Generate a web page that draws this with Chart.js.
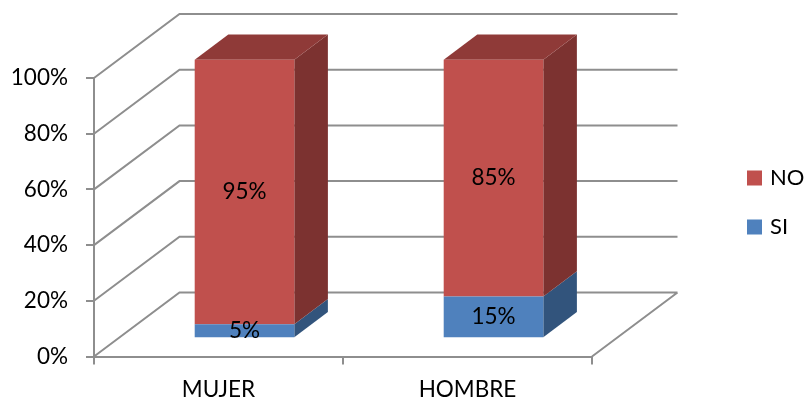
<!DOCTYPE html>
<html>
<head>
<meta charset="utf-8">
<style>
  html, body { margin: 0; padding: 0; background: #fff; }
  #wrap { width: 804px; height: 400px; }
</style>
<script src="https://cdn.jsdelivr.net/npm/chart.js@4/dist/chart.umd.min.js"></script>
</head>
<body>
<div id="wrap"><canvas id="chart" width="804" height="400"></canvas></div>
<script>
const categories = ["MUJER", "HOMBRE"];
const siValues = [5, 15];
const noValues = [95, 85];
const yTicks = [0, 20, 40, 60, 80, 100];

const FONT = { family: "Lato, Carlito, sans-serif", size: 22.5 };
const LEGEND_FONT = { family: "Lato, Carlito, sans-serif", size: 22 };
const TEXT = "#000000";
const AXIS = "#8e8e8e";
const LINE = 2;

// 3D look: how far the back wall and the bars sit from the front plane
const wall = { dx: 85.5, dy: 64 };
const barShift = { dx: 26, dy: 18.3 };
const barDepth = { dx: 33.6, dy: 25.2 };

const faces = [
  { side: "#32547c", top: "#3a6190" },
  { side: "#7c3230", top: "#8f3a38" },
];

function polygon(ctx, pts, color) {
  ctx.fillStyle = color;
  ctx.beginPath();
  pts.forEach((p, i) => (i ? ctx.lineTo(p[0], p[1]) : ctx.moveTo(p[0], p[1])));
  ctx.closePath();
  ctx.fill();
}

const box3d = {
  id: "box3d",
  afterLayout(chart) {
    // legend sits far right of the plot, out of the layout flow
    const lg = chart.legend;
    const w = lg.width, h = lg.height;
    lg.left = 723;
    lg.top = 140;
    lg.right = lg.left + w;
    lg.bottom = lg.top + h;
  },
  beforeDatasetsDraw(chart) {
    const { ctx, chartArea: a, scales: { y } } = chart;
    ctx.save();
    ctx.strokeStyle = AXIS;
    ctx.lineWidth = LINE;
    ctx.beginPath();
    y.ticks.forEach((t) => {
      const py = y.getPixelForValue(t.value);
      ctx.moveTo(a.left, py);
      ctx.lineTo(a.left + wall.dx, py - wall.dy);
      ctx.lineTo(a.right + wall.dx, py - wall.dy);
    });
    ctx.moveTo(a.right, a.bottom);
    ctx.lineTo(a.right + wall.dx, a.bottom - wall.dy);
    ctx.stroke();
    ctx.restore();

    // everything of the bars is drawn shifted back onto the floor
    ctx.save();
    ctx.translate(barShift.dx, -barShift.dy);
    chart.data.datasets.forEach((ds, i) => {
      chart.getDatasetMeta(i).data.forEach((bar) => {
        const r = bar.x + bar.width / 2;
        const l = bar.x - bar.width / 2;
        polygon(ctx, [
          [r, bar.y],
          [r + barDepth.dx, bar.y - barDepth.dy],
          [r + barDepth.dx, bar.base - barDepth.dy],
          [r, bar.base],
        ], faces[i].side);
        if (i === chart.data.datasets.length - 1) {
          polygon(ctx, [
            [l, bar.y],
            [l + barDepth.dx, bar.y - barDepth.dy],
            [r + barDepth.dx, bar.y - barDepth.dy],
            [r, bar.y],
          ], faces[i].top);
        }
      });
    });
  },
  afterDatasetsDraw(chart) {
    const { ctx } = chart;
    ctx.fillStyle = TEXT;
    ctx.font = `${FONT.size}px ${FONT.family}`;
    ctx.textAlign = "center";
    ctx.textBaseline = "middle";
    chart.data.datasets.forEach((ds, i) => {
      chart.getDatasetMeta(i).data.forEach((bar, j) => {
        ctx.fillText(ds.data[j] + "%", bar.x, (bar.y + bar.base) / 2);
      });
    });
    ctx.restore();
  },
};

new Chart(document.getElementById("chart"), {
  type: "bar",
  data: {
    labels: categories,
    datasets: [
      { label: "SI", data: siValues, backgroundColor: "#4f81bd", clip: false },
      { label: "NO", data: noValues, backgroundColor: "#c0504d", clip: false },
    ],
  },
  options: {
    responsive: false,
    animation: false,
    events: [],
    categoryPercentage: 1,
    barPercentage: 0.4,
    layout: { padding: { left: 0, top: 78, right: 212, bottom: 0 } },
    font: FONT,
    scales: {
      x: {
        stacked: true,
        afterFit: (s) => { s.height = 43.5; },
        border: { color: AXIS, width: LINE },
        grid: { drawOnChartArea: false, color: AXIS, lineWidth: LINE, tickLength: 8 },
        ticks: { color: TEXT, font: FONT, padding: 12, maxRotation: 0 },
      },
      y: {
        stacked: true,
        min: 0,
        max: 100,
        afterFit: (s) => { s.width = 94; },
        afterBuildTicks: (s) => { s.ticks = yTicks.map((value) => ({ value })); },
        border: { color: AXIS, width: LINE },
        grid: { drawOnChartArea: false, color: AXIS, lineWidth: LINE, tickLength: 8 },
        ticks: { color: TEXT, font: FONT, padding: 18, callback: (v) => v + "%" },
      },
    },
    plugins: {
      tooltip: { enabled: false },
      title: { display: false },
      legend: {
        position: "chartArea",
        align: "start",
        reverse: true,
        labels: {
          color: TEXT,
          font: LEGEND_FONT,
          boxWidth: 9,
          boxHeight: 9,
          padding: 27,
          // thick same-colour border brings the swatch to 15px but keeps the label close
          generateLabels: (chart) =>
            Chart.defaults.plugins.legend.labels.generateLabels(chart).map((item) => ({
              ...item,
              lineWidth: 6,
              strokeStyle: item.fillStyle,
            })),
        },
      },
    },
  },
  plugins: [box3d],
});
</script>
</body>
</html>
